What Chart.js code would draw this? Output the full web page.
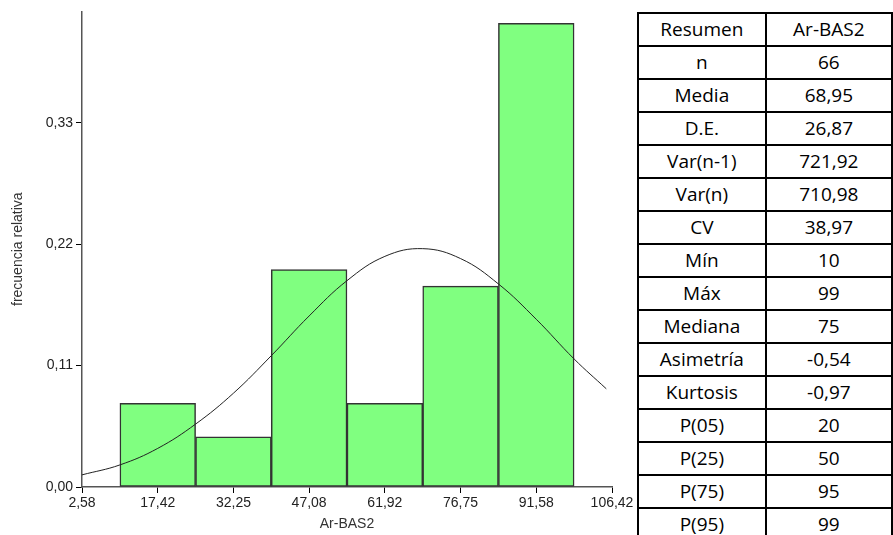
<!DOCTYPE html>
<html>
<head>
<meta charset="utf-8">
<script src="https://cdn.jsdelivr.net/npm/chart.js@4/dist/chart.umd.min.js"></script>
<style>
  html, body { margin: 0; padding: 0; background: #fff; overflow: hidden; width: 893px; height: 535px; }
  #wrap { position: absolute; left: 0; top: 0; width: 640px; height: 535px; }
  #stats {
    position: absolute; left: 637px; top: 12px;
    border-collapse: collapse; background: #fff;
    font-family: "Open Sans", "Noto Sans", sans-serif; font-size: 19px; color: #000;
  }
  #stats td {
    border: 2px solid #000; width: 131px; height: 31px; padding: 0;
    text-align: center; line-height: 31px; white-space: nowrap;
  }
</style>
</head>
<body>
<div id="wrap"><canvas id="chart" width="640" height="535"></canvas></div>
<table id="stats"></table>
<script>
// histogram bins (centres) and relative frequencies
const binCenters = [17.42, 32.25, 47.08, 61.92, 76.75, 91.58]
const relFreq = [0.0758, 0.0455, 0.197, 0.0758, 0.182, 0.4203]

// fitted normal curve
const curveX = [2.58, 10, 17.42, 24.83, 32.25, 39.67, 47.08, 54.5, 61.92, 69.33, 76.75, 84.17, 91.58, 99, 105.3]
const curveY = [0.011, 0.020, 0.035, 0.057, 0.085, 0.119, 0.155, 0.187, 0.209, 0.216, 0.207, 0.184, 0.152, 0.116, 0.089]

const xTicks = [2.58, 17.42, 32.25, 47.08, 61.92, 76.75, 91.58, 106.42]
const yTicks = [0, 0.11, 0.22, 0.33]

// summary table
const statLabels = ['Resumen', 'n', 'Media', 'D.E.', 'Var(n-1)', 'Var(n)', 'CV', 'Mín', 'Máx', 'Mediana', 'Asimetría', 'Kurtosis', 'P(05)', 'P(25)', 'P(75)', 'P(95)']
const statValues = ['Ar-BAS2', '66', '68,95', '26,87', '721,92', '710,98', '38,97', '10', '99', '75', '-0,54', '-0,97', '20', '50', '95', '99']

const table = document.getElementById('stats')
statLabels.forEach((label, i) => {
  const tr = document.createElement('tr')
  const a = document.createElement('td')
  a.textContent = label
  const b = document.createElement('td')
  b.textContent = statValues[i]
  tr.appendChild(a)
  tr.appendChild(b)
  table.appendChild(tr)
})

const fmt = (v) => v.toFixed(2).replace('.', ',')
const tickFont = { family: '"Liberation Sans", Arial, sans-serif', size: 14 }

const ctx = document.getElementById('chart').getContext('2d')
new Chart(ctx, {
  type: 'bar',
  data: {
    datasets: [
      {
        type: 'line',
        data: curveX.map((x, i) => ({ x: x, y: curveY[i] })),
        borderColor: '#222',
        borderWidth: 1,
        pointRadius: 0,
        tension: 0.4,
        fill: false,
        order: 0
      },
      {
        type: 'bar',
        data: binCenters.map((x, i) => ({ x: x, y: relFreq[i] })),
        backgroundColor: '#80ff80',
        borderColor: '#333',
        borderWidth: 1.5,
        borderSkipped: false,
        barPercentage: 1,
        categoryPercentage: 1,
        order: 1
      }
    ]
  },
  options: {
    responsive: false,
    animation: false,
    layout: { padding: { top: 11, right: 28, left: 0, bottom: 0 } },
    plugins: { legend: { display: false }, tooltip: { enabled: false } },
    scales: {
      x: {
        type: 'linear',
        offset: false,
        min: 2.58,
        max: 106.42,
        afterBuildTicks: (scale) => { scale.ticks = xTicks.map((v) => ({ value: v })) },
        afterFit: (scale) => { scale.height = 48 },
        ticks: { callback: (v) => fmt(v), color: '#222', font: tickFont, padding: 2, maxRotation: 0, autoSkip: false },
        grid: { drawOnChartArea: false, drawTicks: true, tickLength: 6, color: '#000', offset: false },
        border: { color: '#555', width: 1.5 },
        title: { display: true, text: 'Ar-BAS2', color: '#333', font: tickFont, padding: { top: 0, bottom: 2 } }
      },
      y: {
        min: 0,
        max: 0.431,
        afterBuildTicks: (scale) => { scale.ticks = yTicks.map((v) => ({ value: v })) },
        afterFit: (scale) => { scale.width = 82 },
        ticks: { callback: (v) => fmt(v), color: '#222', font: tickFont, padding: 3 },
        grid: { drawOnChartArea: false, drawTicks: true, tickLength: 6, color: '#000' },
        border: { color: '#555', width: 1.5 },
        title: { display: true, text: 'frecuencia relativa', color: '#333', font: tickFont, padding: { top: 10, bottom: 0 } }
      }
    }
  }
})
</script>
</body>
</html>
